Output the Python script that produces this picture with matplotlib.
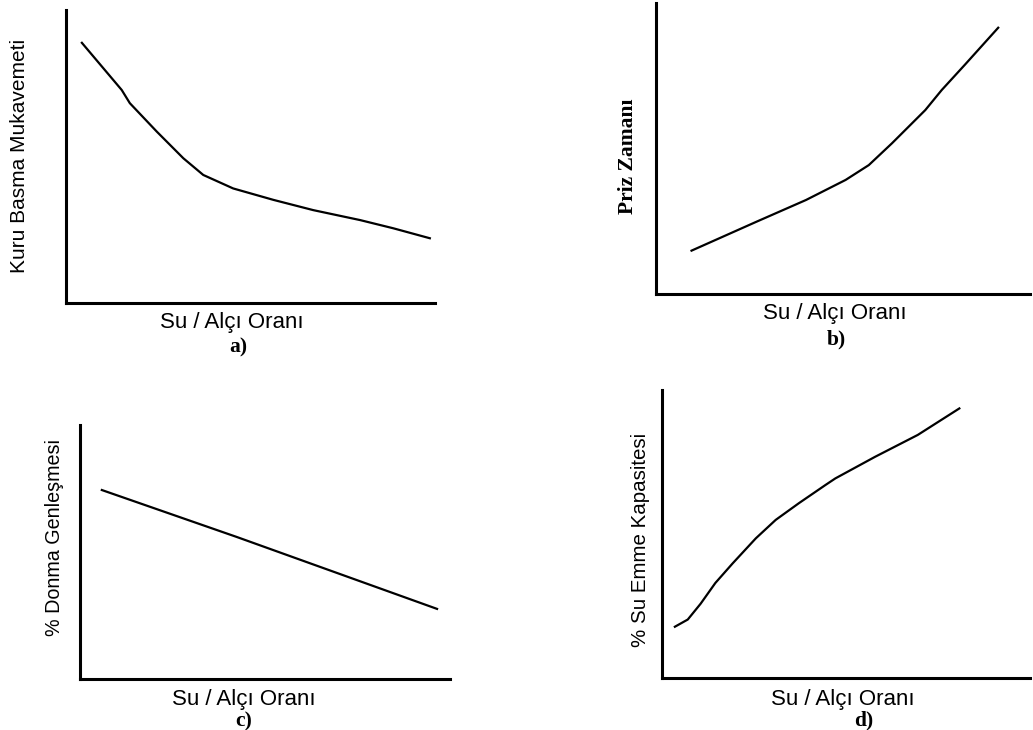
import matplotlib
matplotlib.use("Agg")
import matplotlib.pyplot as plt

W, H = 1033, 730

# Data (arbitrary units, 0-100 axes)
a_x = [4.3, 15.1, 17.3, 24.6, 31.8, 37.2, 45.3, 56.2, 67.0, 79.7, 88.7, 98.6]
a_y = [88.8, 72.7, 68.2, 58.5, 49.4, 43.7, 39.1, 35.2, 31.7, 28.3, 25.5, 22.1]

b_x = [9.5, 26.8, 40.1, 50.7, 56.9, 63.1, 72.0, 76.4, 82.6, 91.5]
b_y = [14.9, 24.8, 32.3, 39.2, 44.3, 51.8, 63.2, 70.1, 78.8, 91.5]

c_x = [5.9, 42.4, 96.5]
c_y = [74.4, 55.9, 27.6]

d_x = [3.5, 7.0, 10.5, 14.5, 19.2, 25.5, 30.9, 37.2, 44.4, 47.1, 57.9, 69.5, 80.8]
d_y = [17.8, 20.3, 25.8, 33.0, 39.8, 48.5, 54.9, 60.7, 67.0, 69.3, 76.8, 84.4, 93.6]

xlabel = "Su / Alçı Oranı"
ylabels = ["Kuru Basma Mukavemeti", "Priz Zamanı", "% Donma Genleşmesi", "% Su Emme Kapasitesi"]
tags = ["a)", "b)", "c)", "d)"]

fig = plt.figure(figsize=(W / 100, H / 100), dpi=100)
fig.patch.set_facecolor("white")

def add_ax(l, r, t, b):
    return fig.add_axes([l / W, 1 - b / H, (r - l) / W, (b - t) / H])

panels = [
    # box (left, right, top, bottom), data, ylabel pos, ylabel font,
    # xlabel (x, y), tag (x, y)
    ((66, 435, 10, 303), (a_x, a_y), (20, 156), ("Liberation Sans", 15, "normal"), (232, 322), (238, 347)),
    ((656, 1030, 3, 294), (b_x, b_y), (628, 156), ("Liberation Serif", 15.5, "bold"), (835, 314), (836, 339)),
    ((80, 450, 425, 679), (c_x, c_y), (55, 538), ("Liberation Sans", 14.2, "normal"), (244, 699), (244, 721)),
    ((662, 1030, 390, 678), (d_x, d_y), (640, 540), ("Liberation Sans", 14.8, "normal"), (843, 700), (864, 720)),
]

for i, (box, (xs, ys), (ylx, yly), (fam, fs, fw), (xlx, xly), (tgx, tgy)) in enumerate(panels):
    ax = add_ax(*box)
    ax.plot(xs, ys, color="black", lw=1.6, solid_joinstyle="round")
    ax.set_xlim(0, 100)
    ax.set_ylim(0, 100)
    for s in ("top", "right"):
        ax.spines[s].set_visible(False)
    for s in ("left", "bottom"):
        ax.spines[s].set_linewidth(2.2)
        ax.spines[s].set_color("black")
    ax.set_xticks([])
    ax.set_yticks([])
    ax.patch.set_alpha(0)
    fig.text(ylx / W, 1 - yly / H, ylabels[i], rotation=90, ha="center", va="center",
             family=fam, fontsize=fs, fontweight=fw)
    fig.text(xlx / W, 1 - xly / H, xlabel, ha="center", va="center",
             family="Liberation Sans", fontsize=16)
    fig.text(tgx / W, 1 - tgy / H, tags[i], ha="center", va="center",
             family="Liberation Serif", fontsize=15.5, fontweight="bold")

fig.savefig("out.png", dpi=100)
